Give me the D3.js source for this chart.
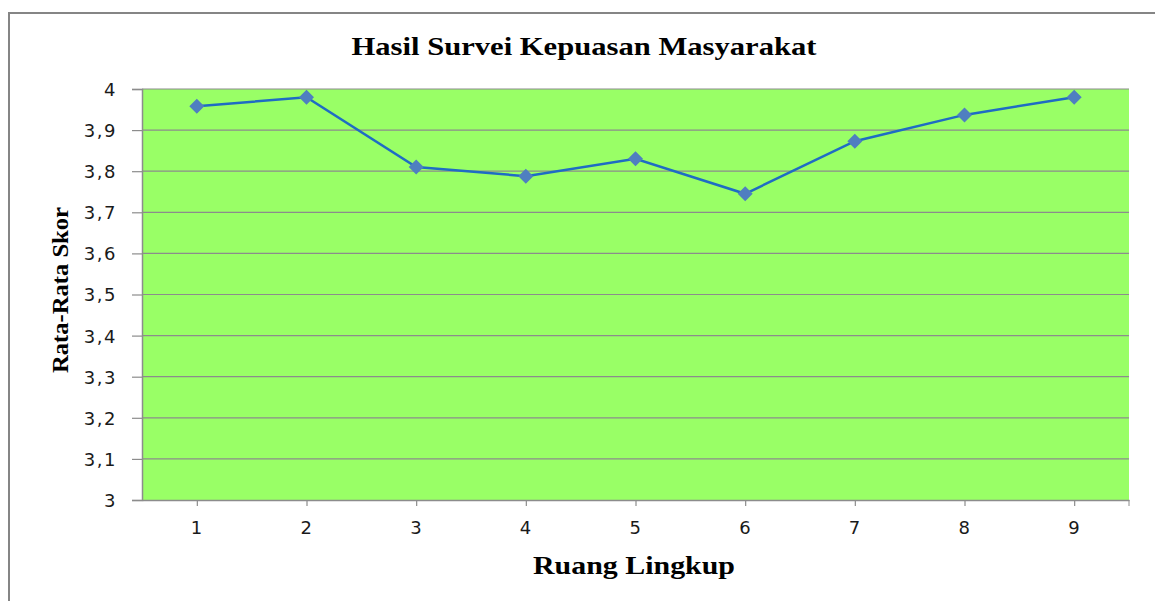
<!doctype html>
<html lang="id">
<head>
  <meta charset="UTF-8">
  <title>Hasil Survei Kepuasan Masyarakat</title>
  <script src="https://cdn.jsdelivr.net/npm/d3@7"></script>
</head>
<body style="margin:0; background:white">
<div id="chart"></div>
<script type="text/javascript">
var title = 'Hasil Survei Kepuasan Masyarakat';
var xTitle = 'Ruang Lingkup';
var yTitle = 'Rata-Rata Skor';
var categories = ['1', '2', '3', '4', '5', '6', '7', '8', '9'];
var scores = [3.958, 3.98, 3.81, 3.788, 3.83, 3.745, 3.873, 3.937, 3.98];
var yTicks = [3, 3.1, 3.2, 3.3, 3.4, 3.5, 3.6, 3.7, 3.8, 3.9, 4];

var W = 1155, H = 601;
var plot = {left: 142, right: 1129, top: 89, bottom: 500};

var svg = d3.select('#chart').append('svg')
  .attr('width', W)
  .attr('height', H)
  .style('display', 'block');

// outer chart frame (runs off the right/bottom of the picture)
svg.append('rect')
  .attr('x', 9).attr('y', 13)
  .attr('width', W + 20).attr('height', H + 20)
  .attr('fill', 'white')
  .attr('stroke', '#858585')
  .attr('stroke-width', 2);

var x = d3.scalePoint()
  .domain(categories)
  .range([plot.left, plot.right])
  .padding(0.5);

var y = d3.scaleLinear()
  .domain([3, 4])
  .range([plot.bottom, plot.top]);

svg.append('rect')
  .attr('x', plot.left).attr('y', plot.top)
  .attr('width', plot.right - plot.left)
  .attr('height', plot.bottom - plot.top)
  .attr('fill', '#99ff66');

// gridlines
svg.append('g').selectAll('line')
  .data(yTicks.filter(function(t) { return t > 3; }))
  .enter().append('line')
  .attr('x1', plot.left).attr('x2', plot.right)
  .attr('y1', function(d) { return y(d); })
  .attr('y2', function(d) { return y(d); })
  .attr('stroke', '#8c8c8c')
  .attr('stroke-width', 1.2);

var fmt = function(d) { return String(+d.toFixed(1)).replace('.', ','); };

var yAxis = svg.append('g')
  .attr('transform', 'translate(' + plot.left + ',0)')
  .call(d3.axisLeft(y).tickValues(yTicks).tickFormat(fmt).tickSize(10).tickPadding(15));

var xAxis = svg.append('g')
  .attr('transform', 'translate(0,' + plot.bottom + ')')
  .call(d3.axisBottom(x).tickSize(6).tickPadding(15).tickSizeOuter(0));

// end tick at the right edge of the category axis
xAxis.append('line')
  .attr('x1', plot.right).attr('x2', plot.right)
  .attr('y1', 0).attr('y2', 6)
  .attr('stroke', '#8c8c8c');

[yAxis, xAxis].forEach(function(ax) {
  ax.select('.domain').attr('stroke', '#8c8c8c').attr('stroke-width', 1.5);
  ax.selectAll('.tick line').attr('stroke', '#8c8c8c').attr('stroke-width', 1.2);
  ax.selectAll('.tick text')
    .attr('fill', '#1a1a1a')
    .style('font-family', '"DejaVu Sans", Verdana, sans-serif')
    .style('font-size', '18px')
    .style('letter-spacing', '1.5px');
});
yAxis.selectAll('.tick text').attr('dy', '0.36em');

var line = d3.line()
  .x(function(d, i) { return x(categories[i]); })
  .y(function(d) { return y(d); });

svg.append('path')
  .datum(scores)
  .attr('d', line)
  .attr('fill', 'none')
  .attr('stroke', '#1f6cc4')
  .attr('stroke-width', 2.5);

svg.append('g').selectAll('path')
  .data(scores)
  .enter().append('path')
  .attr('transform', function(d, i) { return 'translate(' + x(categories[i]) + ',' + y(d) + ')'; })
  .attr('d', 'M0,-7.5L7.5,0L0,7.5L-7.5,0Z')
  .attr('fill', '#4f7fc0');

var serif = '"Liberation Serif", "DejaVu Serif", serif';

svg.append('text')
  .attr('x', 584).attr('y', 55)
  .attr('text-anchor', 'middle')
  .attr('textLength', 465)
  .attr('lengthAdjust', 'spacingAndGlyphs')
  .style('font-family', serif)
  .style('font-weight', 'bold')
  .style('font-size', '25px')
  .text(title);

svg.append('text')
  .attr('x', 634).attr('y', 574)
  .attr('text-anchor', 'middle')
  .attr('textLength', 202)
  .attr('lengthAdjust', 'spacingAndGlyphs')
  .style('font-family', serif)
  .style('font-weight', 'bold')
  .style('font-size', '25px')
  .text(xTitle);

svg.append('text')
  .attr('transform', 'translate(68,290) rotate(-90)')
  .attr('text-anchor', 'middle')
  .attr('textLength', 166)
  .attr('lengthAdjust', 'spacingAndGlyphs')
  .style('font-family', serif)
  .style('font-weight', 'bold')
  .style('font-size', '23px')
  .text(yTitle);
</script>
</body>
</html>
